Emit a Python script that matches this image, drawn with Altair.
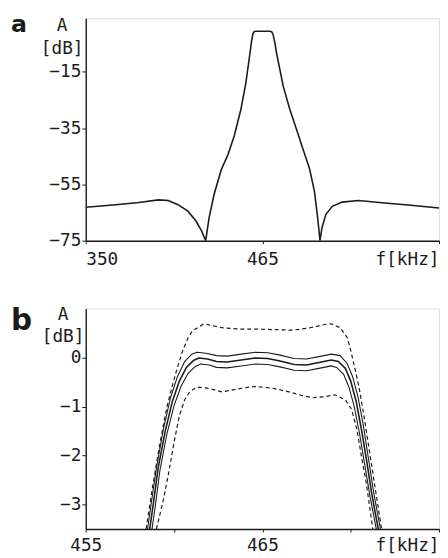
import altair as alt
import pandas as pd

FONT = "DejaVu Sans Mono"
BOLD_FONT = "DejaVu Sans"
INK = "#1b1b1b"

# ---------------- panel a : full response ----------------
a_freq = [350, 369.6, 384.5, 397.3, 403.7, 410.1, 416.5, 421.8, 425.4, 428.1,
          430.3, 433.5, 438.2, 442.4, 446.7, 451.0, 454.2, 456.3, 458.0, 458.8,
          459.5, 460.5, 470.2, 471.2, 472.0, 473.3, 474.3, 476.5, 478.6, 482.9,
          487.2, 491.4, 495.7, 498.9, 501.0, 502.5, 503.8, 506.3, 510.5, 516.9,
          527.6, 544.6, 561.7, 580]
a_att = [-63.1, -62.2, -61.4, -60.5, -60.7, -62.2, -64.5, -68.0, -71.5, -75.0,
         -66.9, -58.7, -49.8, -44.7, -37.7, -28.4, -19.1, -10.9, -3.9, -1.6,
         -0.8, -0.6, -0.6, -0.9, -1.8, -5.2, -8.6, -14.5, -20.2, -28.4,
         -35.4, -42.4, -49.4, -57.5, -66.9, -75.0, -70.4, -65.7, -62.8, -61.3,
         -60.7, -61.6, -62.4, -63.4]
a_yticks = [-75, -55, -35, -15]
a_xticks = [350, 465, 580]

# ---------------- panel b : passband detail ----------------
top_solid_f = [458.5, 458.7, 459.0, 459.4, 459.8, 460.2, 460.6, 461.0, 461.3, 461.8,
               462.4, 463.0, 463.8, 464.6, 465.3, 466.0, 466.8, 467.5, 468.2, 468.9,
               469.4, 469.8, 470.1, 470.4, 470.7, 471.0, 471.3, 471.68]
top_solid_a = [-3.5, -3.0, -2.25, -1.45, -0.82, -0.38, -0.08, 0.07, 0.11, 0.09,
               0.04, 0.03, 0.07, 0.11, 0.10, 0.05, -0.02, -0.03, 0.02, 0.07,
               0.04, -0.12, -0.38, -0.78, -1.35, -2.05, -2.75, -3.5]

mid_solid_f = [458.62, 458.82, 459.1, 459.5, 459.9, 460.3, 460.7, 461.1, 461.4, 461.9,
               462.4, 463.0, 463.8, 464.6, 465.3, 466.0, 466.8, 467.5, 468.2, 468.9,
               469.3, 469.7, 470.0, 470.3, 470.6, 470.9, 471.2, 471.56]
mid_solid_a = [-3.5, -3.0, -2.25, -1.5, -0.9, -0.48, -0.2, -0.06, -0.01, -0.03,
               -0.08, -0.09, -0.05, -0.01, -0.02, -0.07, -0.14, -0.15, -0.10, -0.05,
               -0.08, -0.22, -0.48, -0.88, -1.45, -2.1, -2.8, -3.5]

low_solid_f = [458.75, 458.95, 459.2, 459.6, 460.0, 460.4, 460.8, 461.2, 461.5, 462.0,
               462.4, 463.0, 463.8, 464.6, 465.3, 466.0, 466.8, 467.5, 468.2, 468.9,
               469.2, 469.6, 469.9, 470.2, 470.5, 470.8, 471.1, 471.45]
low_solid_a = [-3.5, -3.0, -2.3, -1.55, -0.98, -0.58, -0.32, -0.18, -0.13, -0.15,
               -0.2, -0.21, -0.17, -0.13, -0.14, -0.19, -0.26, -0.27, -0.22, -0.17,
               -0.2, -0.34, -0.6, -1.0, -1.55, -2.2, -2.85, -3.5]

top_dash_f = [458.42, 458.8, 459.2, 459.6, 459.94, 460.2, 460.5, 460.8, 461.05, 461.7,
              462.7, 463.8, 464.8, 465.8, 466.7, 467.6, 468.6, 468.9, 469.4, 469.8,
              470.0, 470.3, 470.5, 470.8, 471.1, 471.4, 471.75]
top_dash_a = [-3.5, -2.6, -1.75, -1.0, -0.52, -0.19, 0.15, 0.41, 0.55, 0.69,
              0.61, 0.58, 0.58, 0.57, 0.56, 0.60, 0.68, 0.69, 0.61, 0.41,
              0.15, -0.32, -0.66, -1.3, -2.0, -2.7, -3.5]

low_dash_f = [459.0, 459.4, 459.67, 460.0, 460.3, 460.6, 460.9, 461.3, 462.0, 462.7,
              463.6, 464.5, 465.5, 466.4, 467.2, 467.85, 468.5, 469.1, 469.7, 470.05,
              470.35, 470.6, 470.9, 471.25]
low_dash_a = [-3.5, -2.9, -2.4, -1.73, -1.19, -0.86, -0.69, -0.6, -0.63, -0.70,
              -0.64, -0.59, -0.62, -0.69, -0.77, -0.82, -0.80, -0.76, -0.86, -1.06,
              -1.46, -2.0, -2.6, -3.5]

b_yticks = [-3, -2, -1, 0]
b_xticks = [455, 460, 465, 470, 475]

# ---------------- helpers ----------------
def text_layer(text, x, y, size, font=FONT, weight="normal", align="center"):
    return alt.Chart(pd.DataFrame({"t": [text]})).mark_text(
        font=font, fontSize=size, fontWeight=weight, align=align,
        baseline="alphabetic", color=INK
    ).encode(text="t:N", x=alt.value(x), y=alt.value(y))


def axis_x(values, expr, align_expr=None, flush=False, pad=7):
    kw = dict(values=values, labelExpr=expr, title=None, grid=False,
              domainColor=INK, domainWidth=1.4, tickColor=INK, tickSize=3,
              labelFont=FONT, labelFontSize=18, labelColor=INK, labelPadding=pad,
              labelOverlap=False, labelFlush=flush, format="d")
    if align_expr:
        kw["labelAlign"] = alt.ExprRef(expr=align_expr)
    return alt.Axis(**kw)


def axis_y(values):
    return alt.Axis(values=values, title=None, grid=False, domainColor=INK,
                    domainWidth=1.4, tickColor=INK, tickSize=4, labelFont=FONT,
                    labelFontSize=18, labelColor=INK, labelPadding=1,
                    labelOverlap=False, format="d")


W = 359

# ---------------- panel a ----------------
df_a = pd.DataFrame({"f": a_freq, "A": a_att})
xa = alt.X("f:Q", scale=alt.Scale(domain=[350, 580], nice=False, zero=False),
           axis=axis_x(a_xticks, "datum.value == 580 ? 'f[kHz]' : datum.label", flush=True))
ya = alt.Y("A:Q", scale=alt.Scale(domain=[-75, 4], nice=False, zero=False),
           axis=axis_y(a_yticks))
line_a = alt.Chart(df_a).mark_line(color=INK, strokeWidth=1.6, clip=True).encode(x=xa, y=ya)

panel_a = alt.layer(
    line_a,
    text_layer("a", -76, 14, 24, font=BOLD_FONT, weight="bold", align="left"),
    text_layer("A", -24, 13, 18),
    text_layer("[dB]", -24, 36, 18),
).properties(width=W, height=226)

# ---------------- panel b ----------------
def curve_df(fs, As):
    return pd.DataFrame({"f": fs, "A": As})

xb_scale = alt.Scale(domain=[455, 475], nice=False, zero=False)
yb_scale = alt.Scale(domain=[-3.5, 1.0], nice=False, zero=False)
xb = alt.X("f:Q", scale=xb_scale,
           axis=axis_x(b_xticks,
                       "datum.value == 475 ? 'f[kHz]' : (datum.value == 460 || datum.value == 470 ? '' : datum.label)",
                       align_expr="datum.value == 475 ? 'right' : 'center'", pad=5))
yb = alt.Y("A:Q", scale=yb_scale, axis=axis_y(b_yticks))

def curve(fs, As, width, dash=None):
    kw = dict(color=INK, strokeWidth=width, clip=True)
    if dash:
        kw["strokeDash"] = dash
    return alt.Chart(curve_df(fs, As)).mark_line(**kw).encode(x=xb, y=yb)

panel_b = alt.layer(
    curve(top_dash_f, top_dash_a, 1.2, [4, 3]),
    curve(low_dash_f, low_dash_a, 1.2, [4, 3]),
    curve(top_solid_f, top_solid_a, 1.1),
    curve(mid_solid_f, mid_solid_a, 1.6),
    curve(low_solid_f, low_solid_a, 1.1),
    text_layer("b", -76, 22, 30, font=BOLD_FONT, weight="bold", align="left"),
    text_layer("A", -23, 12, 18),
    text_layer("[dB]", -23, 34, 18),
).properties(width=W, height=224)

chart = alt.vconcat(panel_a, panel_b, spacing=37).properties(
    padding={"left": 2, "top": 0, "right": 0, "bottom": 0}
).configure_view(stroke=INK, strokeWidth=1.4).configure(background="white")

chart.save("out.html", embed_options={"renderer": "svg", "actions": False})
